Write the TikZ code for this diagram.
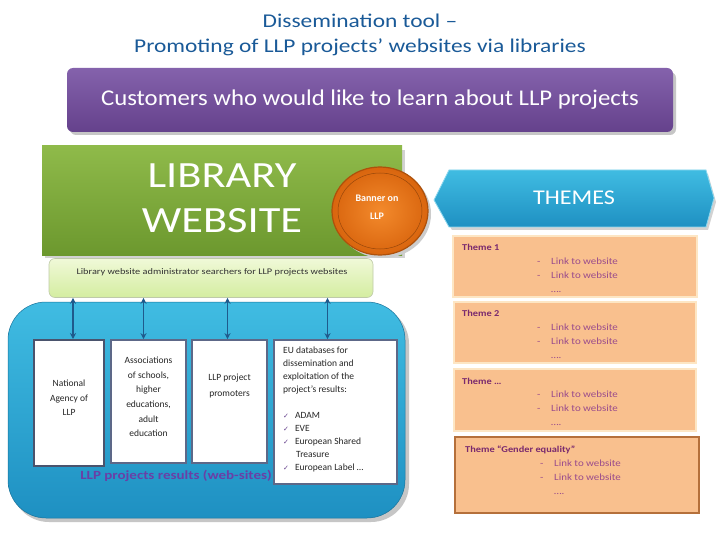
\documentclass[tikz,border=0pt]{standalone}
\usepackage{fontspec}
\setmainfont{Carlito}
\newfontfamily\dejavu{DejaVu Sans}
\newfontfamily\wideA[FakeStretch=1.2,Ligatures=TeX]{Carlito}
\newfontfamily\wideB[FakeStretch=1.1,Ligatures=TeX]{Carlito}
\newfontfamily\wideC[FakeStretch=1.15,Ligatures=TeX]{Carlito}
\usetikzlibrary{arrows.meta,calc,shapes.geometric}
\definecolor{titleblue}{HTML}{1A5A98}
\definecolor{purpA}{HTML}{8462AC}
\definecolor{purpB}{HTML}{65418C}
\definecolor{grnA}{HTML}{8FBA4A}
\definecolor{grnB}{HTML}{6C982E}
\definecolor{ltgA}{HTML}{F0F9D8}
\definecolor{ltgB}{HTML}{D4EDA0}
\definecolor{bluA}{HTML}{40BCE2}
\definecolor{bluB}{HTML}{1E90C2}
\definecolor{orgA}{HTML}{F38A2C}
\definecolor{orgB}{HTML}{D9650E}
\definecolor{peach}{HTML}{F9C08E}
\definecolor{peachedge}{HTML}{FDE6C4}
\definecolor{themetxt}{HTML}{7A2A6E}
\definecolor{linktxt}{HTML}{9A4C8C}
\definecolor{arrowblue}{HTML}{1F5A8C}
\definecolor{boxedge}{HTML}{5D6888}
\definecolor{resultpurp}{HTML}{6A3FA6}
\tikzset{
  x=1pt,y=-1pt,
  roundbox/.style={rounded corners=6pt, inner sep=0pt},
  whitebox/.style={draw=boxedge, line width=1.6pt, fill=white, inner sep=0pt},
  themebox/.style={fill=peach, draw=peachedge, line width=1.5pt, inner sep=0pt},
  dbl/.style={{Stealth[length=6pt,width=6pt]}-{Stealth[length=6pt,width=6pt]}, draw=arrowblue, line width=1.3pt},
  themelabel/.style={anchor=west, text=themetxt, font=\wideC\fontsize{9}{11}\selectfont\bfseries, inner sep=0pt},
  links/.style={anchor=north west, text=linktxt, font=\wideC\fontsize{9.5}{13.8}\selectfont, align=left, inner sep=0pt},
  boxtxt/.style={font=\fontsize{9.5}{14.6}\selectfont, align=center, inner sep=0pt, text=black!85}
}
\newcommand{\lk}{\makebox[14pt][l]{-}Link to website}
\newcommand{\ckm}{{\color{purpB}\dejavu\fontsize{7}{7}\selectfont ✓}}
\begin{document}
\begin{tikzpicture}
\useasboundingbox (0,0) rectangle (720,540);
\fill[white] (0,0) rectangle (720,540);
% title
\node[text=titleblue, font=\wideA\fontsize{19.5}{25}\selectfont, align=center, inner sep=0pt] (title) at (360,35) {Dissemination tool –\\Promoting of LLP projects’ websites via libraries};
% customers
\fill[gray!45, rounded corners=6pt] (70,72) rectangle (676,135);
\node[roundbox, top color=purpA, bottom color=purpB, minimum width=606pt, minimum height=64pt, text=white, font=\wideB\fontsize{22.5}{26}\selectfont] (cust) at (370,100) {Customers who would like to learn about LLP projects};
% library website
\fill[gray!35] (45,150) rectangle (405,258);
\node[inner sep=0pt, top color=grnA, bottom color=grnB, minimum width=360pt, minimum height=109pt] (lib) at (222,200.5) {};
\node[text=white, font=\wideA\fontsize{37}{45}\selectfont, align=center, inner sep=0pt] (libtxt) at (222,198) {LIBRARY\\WEBSITE};
% banner
\fill[gray!40] (383,214) ellipse (48 and 44);
\node[ellipse, draw=orgB!80!black, line width=1.2pt, inner color=orgA, outer color=orgB, minimum width=96pt, minimum height=88pt, inner sep=0pt] (banner) at (380,211) {};
\draw[orgB!70!black, line width=0.5pt] (banner.center) ellipse (42 and 38);
\node[text=white, font=\fontsize{10}{18}\selectfont\bfseries, align=center, inner sep=0pt] (bannertxt) at (377,207) {Banner on\\LLP};
% admin
\node[roundbox, draw=ltgB!70!black!60, line width=0.6pt, top color=ltgA, bottom color=ltgB, minimum width=324pt, minimum height=39pt] (admin) at (211,278) {};
\node[font=\wideA\fontsize{8.6}{10}\selectfont, text=black!80, inner sep=0pt] (admintxt) at (212,272) {Library website administrator searchers for LLP projects websites};
% results box
\fill[gray!45, rounded corners=38pt] (11,306) rectangle (409,522);
\node[rounded corners=38pt, inner sep=0pt, top color=bluA, bottom color=bluB, draw=bluB!80!black, line width=0.5pt, minimum width=397pt, minimum height=216pt] (res) at (206.5,410) {};
% white boxes
\node[whitebox, line width=2pt, draw=boxedge!80!black, minimum width=70pt, minimum height=126pt] (b1) at (69,403) {};
\node[whitebox, minimum width=75pt, minimum height=123pt] (b2) at (148.5,401.5) {};
\node[whitebox, minimum width=75pt, minimum height=123pt] (b3) at (229.5,401.5) {};
\node[whitebox, minimum width=123pt, minimum height=144pt] (b4) at (335.5,412) {};
\node[boxtxt] (b1t) at (69,398) {National\\Agency of\\LLP};
\node[boxtxt, anchor=north] (b2t) at (148.5,357) {Associations\\of schools,\\higher\\educations,\\adult\\education};
\node[boxtxt, anchor=north, font=\fontsize{9.5}{15.5}\selectfont] (b3t) at (229.5,374) {LLP project\\promoters};
\node[anchor=north west, font=\fontsize{9.5}{13}\selectfont, align=left, inner sep=0pt, text=black!85] (b4t) at (283,347) {EU databases for\\dissemination and\\exploitation of the\\project’s results:\\[13pt]
\ckm\hspace{6pt}ADAM\\
\ckm\hspace{6pt}EVE\\
\ckm\hspace{6pt}European Shared\\
\hspace{13pt}Treasure\\
\ckm\hspace{6pt}European Label \ldots};
\node[text=resultpurp, font=\wideA\fontsize{12.5}{14}\selectfont\bfseries, inner sep=0pt] (restxt) at (176,476) {LLP projects results (web-sites)};
% arrows
\draw[dbl] ([xshift=4pt]b1.north) -- ([xshift=4pt]b1.north |- admin.south);
\draw[dbl] ([xshift=-5pt]b2.north) -- ([xshift=-5pt]b2.north |- admin.south);
\draw[dbl] ([xshift=-2pt]b3.north) -- ([xshift=-2pt]b3.north |- admin.south);
\draw[dbl] ([xshift=-8pt]b4.north) -- ([xshift=-8pt]b4.north |- admin.south);
% themes
\fill[gray!35] (437,204) -- (452,174) -- (708,174) -- (716,202) -- (708,230) -- (452,230) -- cycle;
\path[top color=bluA, bottom color=bluB, draw=bluA!60!white, line width=0.8pt] (434,200) -- (449,170) -- (706,170) -- (714,198) -- (706,227) -- (449,227) -- cycle;
\node[text=white, font=\wideC\fontsize{21}{24}\selectfont, inner sep=0pt] (themes) at (574,198) {THEMES};
% theme boxes
\node[themebox, minimum width=244pt, minimum height=61pt] (t1) at (575,266.5) {};
\node[themebox, minimum width=242pt, minimum height=61pt] (t2) at (575,332.5) {};
\node[themebox, minimum width=242pt, minimum height=62pt] (t3) at (575,400) {};
\node[themebox, draw=orgB!75!black!80, line width=1.4pt, minimum width=244pt, minimum height=76pt] (t4) at (577,475) {};
\node[themelabel] (t1l) at (462,247) {Theme 1};
\node[themelabel] (t2l) at (462,313) {Theme 2};
\node[themelabel] (t3l) at (462,381) {Theme \ldots};
\node[themelabel] (t4l) at (465,450) {Theme “Gender equality”};
\node[links] (t1k) at (537,258) {\lk\\\lk\\\hspace{14pt}\ldots.};
\node[links] (t2k) at (537,324) {\lk\\\lk\\\hspace{14pt}\ldots.};
\node[links] (t3k) at (537,391) {\lk\\\lk\\\hspace{14pt}\ldots.};
\node[links] (t4k) at (540,460) {\lk\\\lk\\\hspace{14pt}\ldots.};
\end{tikzpicture}
\end{document}
